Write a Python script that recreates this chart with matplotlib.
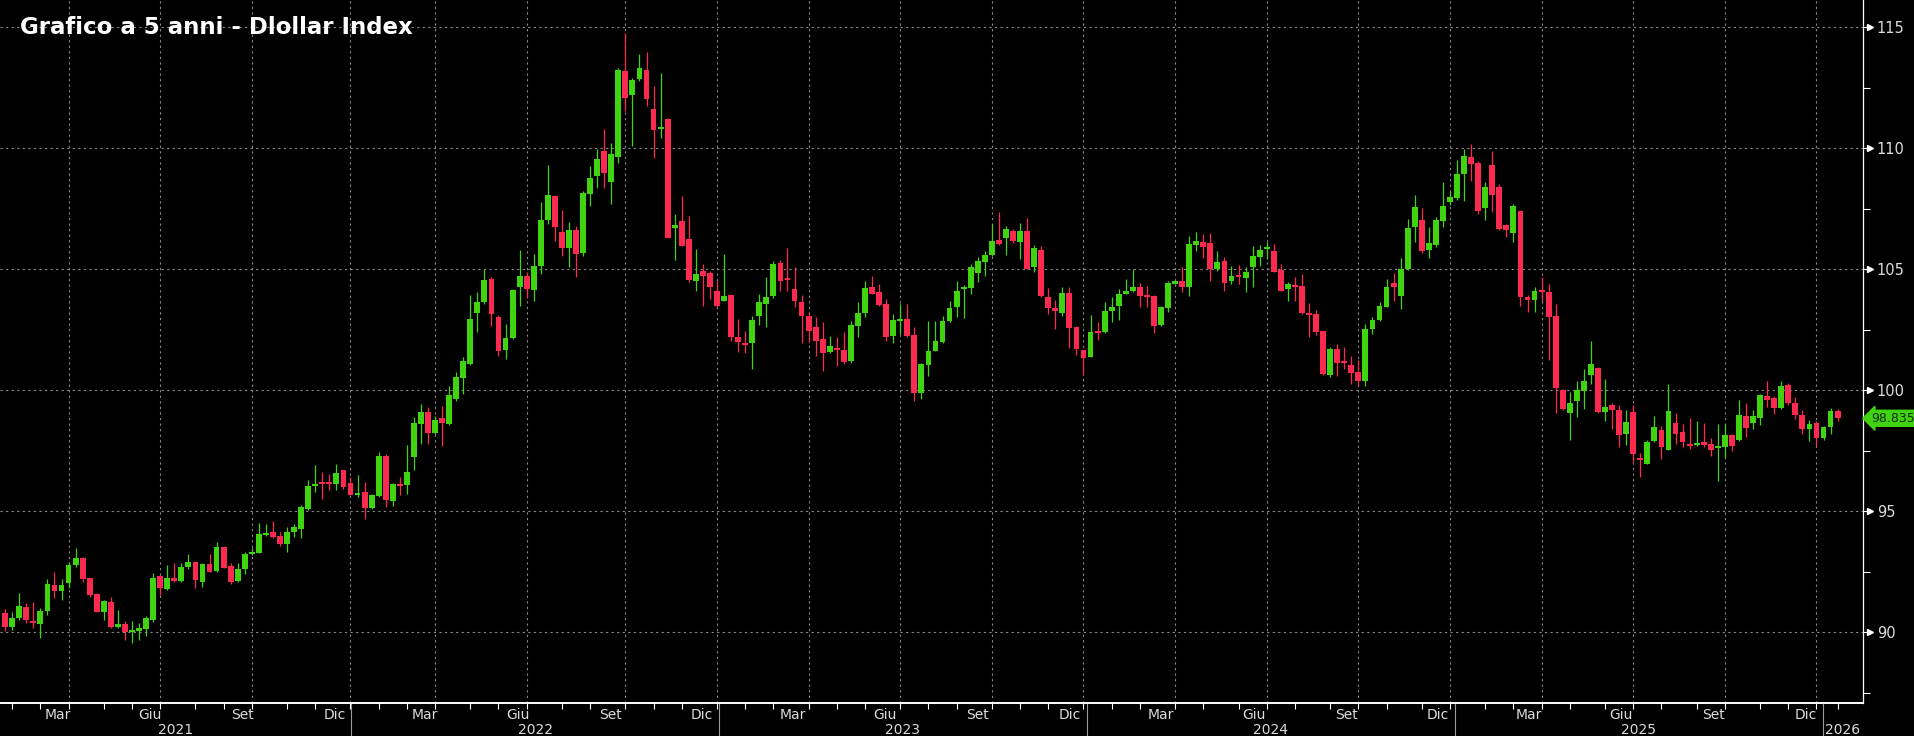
import matplotlib
matplotlib.use("Agg")
import matplotlib.pyplot as plt
import matplotlib.dates as mdates
import matplotlib.transforms as mtransforms
import pandas as pd
import numpy as np

# weekly candles (Friday closes), Jan 2021 - Jan 2026
weeks = pd.date_range("2021-01-22", periods=261, freq="W-FRI")

opens = [
    90.78, 90.23, 90.58, 91.03, 90.44, 90.34, 90.89, 91.95, 91.68, 92.02,
    92.76, 93.08, 92.22, 91.58, 90.85, 91.25, 90.21, 90.34, 90.01, 90.03,
    90.14, 90.48, 92.32, 91.77, 92.23, 92.13, 92.68, 92.88, 92.09, 92.82,
    92.54, 93.50, 92.73, 92.13, 92.62, 93.23, 93.28, 94.01, 94.12, 93.97,
    93.64, 94.12, 94.24, 95.10, 96.03, 96.20, 96.17, 96.11, 96.69, 96.17,
    95.65, 95.78, 95.14, 95.62, 97.27, 95.41, 96.10, 96.06, 97.23, 98.60,
    99.11, 98.22, 98.85, 98.58, 99.64, 100.50, 101.08, 103.17, 103.65, 104.59,
    103.03, 101.66, 102.14, 104.25, 104.70, 104.13, 105.11, 107.02, 108.03, 106.54,
    105.86, 106.61, 105.65, 108.10, 108.85, 109.88, 108.58, 109.65, 113.18, 112.18,
    112.84, 113.21, 111.60, 110.78, 111.19, 106.71, 106.99, 106.24, 104.52, 104.93,
    104.85, 104.11, 103.69, 103.94, 102.18, 101.95, 101.93, 103.07, 103.55, 103.90,
    105.26, 104.61, 104.17, 103.65, 103.07, 102.62, 102.12, 101.56, 101.72, 101.67,
    101.21, 102.66, 103.17, 104.27, 104.05, 103.55, 102.25, 102.84, 102.93, 102.29,
    99.90, 101.03, 101.63, 101.97, 102.84, 103.42, 104.16, 104.21, 104.82, 105.28,
    105.59, 106.20, 106.28, 106.58, 106.14, 106.58, 105.07, 105.79, 103.86, 103.39,
    103.17, 104.01, 102.59, 101.65, 101.38, 102.42, 102.42, 103.25, 103.49, 103.99,
    104.08, 104.27, 103.94, 103.90, 102.70, 103.41, 104.38, 104.52, 104.28, 106.00,
    106.10, 106.06, 105.00, 105.32, 104.49, 104.77, 104.63, 105.07, 105.48, 105.83,
    105.73, 104.97, 104.17, 104.35, 104.31, 103.17, 103.14, 102.45, 100.63, 101.69,
    101.21, 101.05, 100.73, 100.39, 102.52, 102.89, 103.44, 104.41, 103.90, 105.00,
    106.72, 107.02, 105.79, 106.01, 107.00, 107.76, 107.93, 108.95, 109.64, 109.37,
    107.51, 109.31, 108.40, 106.82, 106.51, 107.41, 103.83, 103.72, 104.13, 104.05,
    103.06, 100.00, 99.04, 99.56, 99.97, 100.63, 100.91, 99.08, 99.39, 99.17,
    98.20, 99.10, 97.17, 96.94, 97.91, 98.35, 97.52, 98.64, 98.25, 97.77,
    97.74, 97.84, 97.77, 97.60, 97.66, 98.15, 97.93, 98.94, 98.62, 98.84,
    99.77, 99.66, 99.26, 100.22, 99.48, 98.98, 98.39, 98.62, 98.02, 98.46,
    99.12,
]
highs = [
    90.95, 90.85, 91.61, 91.22, 91.26, 90.99, 92.18, 92.50, 92.18, 92.91,
    93.46, 93.12, 92.22, 91.61, 91.33, 91.44, 90.92, 90.44, 90.44, 90.37,
    90.65, 92.43, 92.36, 92.77, 92.84, 92.84, 93.21, 92.91, 92.84, 93.21,
    93.74, 93.53, 92.84, 92.87, 93.32, 93.46, 94.49, 94.46, 94.59, 94.15,
    94.35, 94.46, 95.25, 96.28, 96.92, 96.62, 96.54, 96.94, 96.69, 96.41,
    96.48, 96.20, 95.72, 97.43, 97.37, 96.15, 96.40, 97.75, 98.88, 99.43,
    99.29, 98.95, 99.36, 100.19, 100.76, 101.36, 103.93, 104.04, 105.00, 104.66,
    103.12, 102.73, 104.17, 105.78, 104.86, 105.62, 107.79, 109.31, 108.07, 107.43,
    106.93, 106.79, 108.23, 109.26, 109.95, 110.78, 110.23, 113.32, 114.77, 112.91,
    113.90, 113.97, 112.57, 113.12, 111.26, 107.27, 108.03, 107.20, 105.83, 105.23,
    104.93, 104.52, 105.62, 103.94, 102.93, 102.45, 103.07, 103.97, 104.68, 105.34,
    105.37, 105.87, 105.07, 103.94, 103.18, 103.03, 102.80, 102.25, 102.18, 102.42,
    102.84, 103.62, 104.49, 104.72, 104.38, 103.76, 103.14, 103.55, 103.55, 102.59,
    101.10, 102.84, 102.84, 103.07, 103.69, 104.49, 104.35, 105.21, 105.51, 105.76,
    106.86, 107.34, 106.79, 106.65, 106.89, 107.10, 106.00, 105.96, 104.21, 103.72,
    104.24, 104.24, 102.66, 101.65, 103.11, 102.80, 103.62, 103.83, 104.17, 104.59,
    105.00, 104.41, 104.31, 103.94, 103.49, 104.52, 104.55, 105.10, 106.38, 106.54,
    106.45, 106.49, 105.76, 105.48, 105.14, 105.18, 105.07, 105.96, 106.00, 106.10,
    106.03, 105.21, 104.45, 104.66, 104.79, 103.58, 103.31, 102.45, 101.79, 101.90,
    101.79, 101.42, 101.24, 102.73, 103.03, 103.62, 104.59, 104.82, 105.45, 107.07,
    108.07, 107.52, 106.75, 107.16, 108.58, 108.21, 109.50, 109.96, 110.17, 109.48,
    108.58, 109.86, 108.51, 106.86, 107.69, 107.41, 103.94, 104.24, 104.68, 104.38,
    103.55, 100.04, 99.94, 100.39, 100.87, 102.01, 100.94, 100.45, 99.45, 99.39,
    99.17, 99.39, 97.42, 97.93, 98.94, 98.53, 100.25, 99.04, 98.59, 98.84,
    98.73, 98.66, 98.04, 98.59, 98.59, 98.18, 99.59, 99.45, 99.17, 99.83,
    100.36, 99.77, 100.39, 100.28, 99.70, 99.17, 98.76, 98.71, 98.53, 99.28,
    99.21,
]
lows = [
    90.03, 90.10, 90.51, 90.37, 90.16, 89.75, 90.71, 91.40, 91.33, 91.81,
    92.70, 92.09, 91.47, 90.85, 90.51, 90.16, 90.16, 89.68, 89.57, 89.68,
    89.85, 90.40, 91.54, 91.72, 92.09, 92.09, 92.60, 91.81, 91.88, 92.50,
    92.50, 92.64, 91.99, 92.09, 92.40, 93.19, 93.26, 93.97, 93.87, 93.56,
    93.32, 93.91, 93.87, 95.04, 95.80, 95.52, 95.87, 95.87, 95.93, 95.66,
    95.59, 94.67, 95.10, 95.58, 95.17, 95.23, 95.65, 95.72, 96.68, 97.78,
    97.78, 98.19, 97.71, 98.54, 99.57, 99.84, 101.05, 102.39, 103.56, 102.66,
    101.42, 101.29, 102.11, 103.49, 103.80, 103.69, 104.79, 106.86, 106.17, 105.55,
    105.07, 104.66, 105.55, 107.61, 108.37, 108.37, 107.71, 109.40, 111.53, 110.09,
    112.77, 111.74, 109.58, 110.43, 106.27, 105.37, 105.96, 104.45, 104.11, 103.49,
    103.76, 103.42, 103.69, 102.04, 101.56, 101.52, 100.87, 102.70, 102.59, 103.80,
    104.10, 104.10, 103.44, 101.93, 101.97, 101.42, 100.80, 101.52, 101.00, 101.07,
    101.14, 102.20, 103.00, 103.99, 103.49, 102.01, 101.93, 102.31, 102.18, 99.56,
    99.63, 100.59, 101.60, 101.93, 102.80, 103.03, 102.98, 103.97, 104.45, 104.72,
    105.55, 106.00, 105.59, 106.06, 105.41, 105.00, 104.90, 103.86, 103.14, 102.52,
    103.07, 101.76, 101.46, 100.66, 101.35, 102.07, 102.34, 102.80, 102.89, 103.97,
    104.04, 103.44, 103.44, 102.38, 102.66, 103.21, 104.38, 104.04, 103.90, 105.76,
    105.45, 104.52, 104.93, 104.10, 104.38, 104.38, 104.04, 104.28, 105.14, 105.41,
    104.86, 104.08, 103.69, 103.69, 103.14, 102.20, 102.29, 100.63, 100.55, 100.59,
    100.87, 100.25, 100.18, 100.18, 102.31, 102.84, 103.42, 103.69, 103.35, 104.96,
    106.14, 105.65, 105.45, 105.92, 106.75, 107.66, 107.85, 107.82, 108.62, 107.27,
    107.02, 107.34, 106.61, 106.34, 106.14, 103.48, 103.21, 103.21, 103.69, 101.24,
    99.04, 99.17, 97.93, 98.90, 99.21, 100.25, 99.04, 98.73, 98.39, 97.66,
    97.74, 97.01, 96.39, 96.94, 97.84, 97.15, 97.52, 97.77, 97.63, 97.56,
    97.70, 97.63, 97.29, 96.25, 97.19, 97.47, 97.88, 98.07, 98.39, 98.57,
    99.31, 99.00, 99.21, 99.39, 98.80, 98.18, 97.91, 97.70, 97.93, 98.18,
    98.71,
]
closes = [
    90.23, 90.58, 91.09, 90.48, 90.37, 90.89, 91.99, 91.68, 91.95, 92.77,
    93.05, 92.18, 91.54, 90.85, 91.29, 90.23, 90.34, 90.01, 90.07, 90.16,
    90.58, 92.23, 91.84, 92.23, 92.13, 92.71, 92.91, 92.16, 92.82, 92.50,
    93.50, 92.66, 92.05, 92.60, 93.23, 93.32, 94.05, 94.08, 93.94, 93.64,
    94.13, 94.33, 95.15, 96.03, 96.10, 96.11, 96.11, 96.58, 96.00, 95.66,
    95.73, 95.14, 95.65, 97.27, 95.44, 96.10, 96.05, 96.61, 98.64, 99.11,
    98.22, 98.77, 98.66, 99.81, 100.53, 101.22, 102.94, 103.65, 104.55, 103.14,
    101.63, 102.14, 104.13, 104.70, 104.17, 105.11, 107.02, 108.05, 106.72, 105.89,
    106.61, 105.62, 108.16, 108.78, 109.54, 108.99, 109.77, 113.21, 112.08, 112.81,
    113.29, 112.02, 110.74, 110.87, 106.27, 106.83, 105.96, 104.55, 104.79, 104.73,
    104.27, 103.49, 103.90, 102.18, 101.97, 101.87, 102.91, 103.65, 103.86, 105.21,
    104.49, 104.57, 103.69, 103.07, 102.45, 102.04, 101.52, 101.82, 101.65, 101.17,
    102.70, 103.18, 104.21, 103.99, 103.53, 102.20, 102.89, 102.93, 102.25, 99.90,
    101.07, 101.63, 102.04, 102.87, 103.39, 104.10, 104.21, 105.10, 105.34, 105.59,
    106.17, 106.03, 106.65, 106.17, 106.58, 105.00, 105.87, 103.90, 103.39, 103.25,
    104.01, 102.56, 101.69, 101.32, 102.41, 102.37, 103.28, 103.44, 103.97, 104.10,
    104.27, 103.90, 103.86, 102.66, 103.44, 104.42, 104.49, 104.28, 106.03, 106.17,
    105.92, 105.00, 105.28, 104.41, 104.72, 104.68, 104.90, 105.55, 105.80, 105.90,
    104.86, 104.08, 104.38, 104.28, 103.17, 103.11, 102.42, 100.66, 101.69, 101.14,
    101.10, 100.69, 100.36, 102.52, 102.89, 103.49, 104.27, 104.28, 105.00, 106.69,
    107.58, 105.73, 106.06, 107.02, 107.62, 107.99, 108.95, 109.68, 109.34, 107.41,
    108.40, 108.07, 106.65, 106.61, 107.62, 103.83, 103.72, 104.10, 104.04, 103.00,
    100.07, 99.20, 99.48, 100.00, 100.36, 101.07, 99.08, 99.31, 99.17, 98.15,
    98.69, 97.38, 97.11, 97.84, 98.48, 97.63, 99.15, 98.18, 97.84, 97.70,
    97.80, 97.74, 97.52, 97.66, 98.15, 97.70, 98.98, 98.42, 98.94, 99.81,
    99.59, 99.28, 100.18, 99.45, 98.98, 98.39, 98.59, 98.02, 98.46, 99.15,
    98.835,
]

month_names = {3: "Mar", 6: "Giu", 9: "Set", 12: "Dic"}
y_ticks = [90, 95, 100, 105, 110, 115]
title = "Grafico a 5 anni - Dlollar Index"

GREEN = "#3fd40f"
RED = "#fb2a4e"
GRID = "#8a8a8a"
TXT = "#dcdcdc"
LABEL_FONT = ["Liberation Sans Narrow", "DejaVu Sans"]

W, H = 1914, 736
fig = plt.figure(figsize=(W / 100, H / 100), dpi=100, facecolor="black")
ax = fig.add_axes([0, 33 / H, 1863 / W, 703 / H])
ax.set_facecolor("black")

x = mdates.date2num(weeks)
o = np.array(opens)
c = np.array(closes)
hi = np.array(highs)
lo = np.array(lows)
cols = np.where(c >= o, GREEN, RED)

bottom = np.minimum(o, c)
height = np.maximum(np.abs(c - o), 0.08)
ax.vlines(x, lo, hi, colors=cols, linewidth=0.9, zorder=3)
ax.bar(x, height, bottom=bottom, width=5.8, color=cols, linewidth=0, zorder=4)

# x range: Jan 1 2022 sits at pixel 351.5, 367.5 px per year
jan22 = mdates.date2num(pd.Timestamp("2022-01-01"))
ax.set_xlim(jan22 - 349.1, jan22 + 1501.2)
ax.set_ylim(87.07, 116.12)
x0, x1 = ax.get_xlim()

# grid lines sit on the last weekly bar before each quarter start
q_starts = pd.date_range("2021-04-01", "2026-01-01", freq="QS")
grid_x = [mdates.date2num(weeks[weeks < q][-1]) for q in q_starts]
m_starts = pd.date_range("2021-02-01", "2026-02-01", freq="MS")
month_x = [mdates.date2num(weeks[weeks < m][-1]) for m in m_starts]

ax.set_xticks(grid_x)
ax.set_xticks(month_x, minor=True)
ax.set_xticklabels([])
ax.tick_params(axis="x", which="both", direction="out", length=4, width=0.8, colors="white")

ax.yaxis.tick_right()
ax.set_yticks(y_ticks)
ax.set_yticks([87.5, 92.5, 97.5, 102.5, 107.5, 112.5], minor=True)
ax.set_yticklabels([str(v) for v in y_ticks], family=LABEL_FONT, fontsize=10.5, color=TXT)
ax.tick_params(axis="y", which="major", length=6, width=0.8, colors="white", pad=4)
ax.tick_params(axis="y", which="minor", length=5, width=0.8, colors="white")
for lab in ax.get_yticklabels():
    lab.set_color(TXT)

ax.grid(True, which="major", color=GRID, linestyle=(0, (2, 3)), linewidth=0.8)
ax.set_axisbelow(True)

for s in ["top", "left"]:
    ax.spines[s].set_visible(False)
ax.spines["right"].set_color("white")
ax.spines["bottom"].set_color("white")
ax.spines["bottom"].set_linewidth(1.4)
ax.spines["right"].set_linewidth(0.9)

# small pointers on the right axis
ytrans = mtransforms.blended_transform_factory(ax.transAxes, ax.transData)
ptr = ytrans + mtransforms.ScaledTranslation(5 / 72, 0, fig.dpi_scale_trans)
ax.plot([1.0] * len(y_ticks), y_ticks, linestyle="none", marker=">", markersize=4,
        color="white", transform=ptr, clip_on=False)

# month and year labels under the axis
xfig = mtransforms.blended_transform_factory(ax.transData, fig.transFigure)
for m in pd.date_range("2021-01-01", "2026-02-01", freq="MS"):
    if m.month in month_names:
        mx = mdates.date2num(m + pd.Timedelta(days=14))
        if x0 < mx < x1:
            ax.text(mx, 21 / H, month_names[m.month], transform=xfig, ha="center", va="center",
                    family=LABEL_FONT, fontsize=10, color=TXT)

for yr in range(2021, 2027):
    a = max(mdates.date2num(pd.Timestamp(f"{yr}-01-01")), x0)
    b = min(mdates.date2num(pd.Timestamp(f"{yr + 1}-01-01")), x1)
    ax.text((a + b) / 2, 6 / H, str(yr), transform=xfig, ha="center", va="center",
            family=LABEL_FONT, fontsize=10, color=TXT)
    if yr > 2021:
        ax.plot([a, a], [0, 33 / H], color="#9a9a9a", linewidth=0.8, transform=xfig, clip_on=False)

# last price tag
ax.annotate(f"{closes[-1]:.3f}", xy=(1.0, closes[-1]), xycoords=ytrans,
            xytext=(6, 0), textcoords="offset points", ha="left", va="center",
            family=LABEL_FONT, fontsize=9, color="#0b2a00",
            bbox=dict(boxstyle="larrow,pad=0.12", fc=GREEN, ec=GREEN))

fig.text(20 / W, 1 - 27 / H, title, ha="left", va="center", color="white",
         fontsize=16.5, fontweight="bold", family="DejaVu Sans")

fig.savefig("out.png", dpi=100, facecolor="black")
